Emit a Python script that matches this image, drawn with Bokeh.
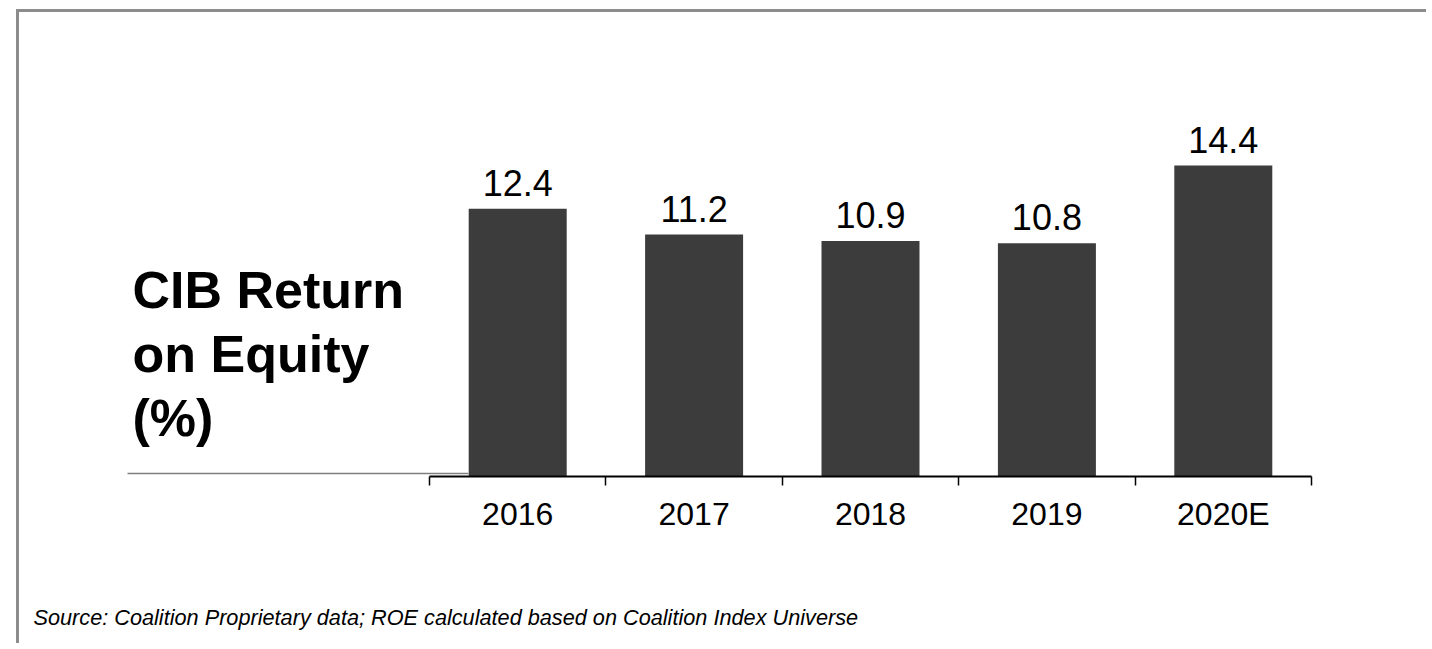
from bokeh.plotting import figure
from bokeh.models import ColumnDataSource, Range1d, LinearAxis, FixedTicker, Label, Title
from bokeh.core.properties import value
from bokeh.embed import file_html
from bokeh.resources import INLINE

# ---- data ----
categories = ["2016", "2017", "2018", "2019", "2020E"]
roe = [12.4, 11.2, 10.9, 10.8, 14.4]
value_labels = [f"{v:.1f}" for v in roe]
title_lines = ["CIB Return", "on Equity", "(%)"]
source_note = "Source: Coalition Proprietary data; ROE calculated based on Coalition Index Universe"

# ---- layout constants (page pixels) ----
LEFT_OFF, TOP_OFF = 19, 12        # canvas origin on page (after CSS margin + border)
W, H = 1410, 634
FRAME_BOTTOM_PAGE = 476
FRAME_H = FRAME_BOTTOM_PAGE - TOP_OFF
PX_PER_X = 176.4
PX_PER_Y = 21.6
X0_PAGE = 429           # page x of category boundary 0
BASE_SHIFT = 0.36       # baseline compensation (em)

x_start = -(X0_PAGE - LEFT_OFF) / PX_PER_X
x_end = x_start + W / PX_PER_X
y_end = FRAME_H / PX_PER_Y


def px_x(page_x):
    return x_start + (page_x - LEFT_OFF) / PX_PER_X


def px_y(page_y):
    return (FRAME_BOTTOM_PAGE - page_y) / PX_PER_Y


p = figure(width=W, height=H, output_backend="svg", toolbar_location=None,
           x_range=Range1d(x_start, x_end), y_range=Range1d(0, y_end),
           x_axis_location=None, y_axis_location=None,
           min_border_left=0, min_border_right=0, min_border_top=0,
           min_border_bottom=H - FRAME_H)
p.styles = {"margin-left": "16px", "margin-top": "9px",
            "border-left": "3px solid #8c8c8c", "border-top": "3px solid #8c8c8c"}
p.grid.visible = False
p.outline_line_color = None
p.background_fill_color = "white"
p.border_fill_color = "white"

xs = [i + 0.5 for i in range(len(categories))]
src = ColumnDataSource(dict(x=xs, top=roe, lab=value_labels, cat=categories))

p.vbar(x="x", top="top", bottom=0, width=98 / PX_PER_X, source=src,
       fill_color="#3c3c3c", line_color=None)

VAL_FS = 36
p.text(x="x", y="top", text="lab", source=src, text_align="center",
       text_baseline="alphabetic", y_offset=-(13 + BASE_SHIFT * VAL_FS),
       text_font=value("Liberation Sans"), text_font_size=f"{VAL_FS}px", text_color="#000000")

# gray baseline to the left
p.segment(x0=[px_x(127)], y0=[px_y(473)], x1=[px_x(468)], y1=[px_y(473)],
          line_color="#7f7f7f", line_width=1.5)

# x axis with boundary ticks
ax = LinearAxis(bounds=(0, len(categories)))
ax.ticker = FixedTicker(ticks=xs, minor_ticks=list(range(len(categories) + 1)))
ax.major_label_overrides = {x: c for x, c in zip(xs, categories)}
ax.major_tick_line_color = None
ax.major_tick_in = 0
ax.major_tick_out = 9
ax.minor_tick_in = 0
ax.minor_tick_out = 9
ax.minor_tick_line_color = "#000000"
ax.minor_tick_line_width = 1.5
ax.axis_line_color = "#000000"
ax.axis_line_width = 2
ax.major_label_standoff = 10
ax.major_label_text_font = "Liberation Sans"
ax.major_label_text_font_size = "32px"
ax.major_label_text_color = "#000000"
p.add_layout(ax, "below")

# spacer + source note below the axis
p.add_layout(Title(text=" ", text_font_size="1px", standoff=65), "below")
p.add_layout(Title(text=source_note, align="left", offset=33 - LEFT_OFF, standoff=0,
                   text_font="Liberation Sans", text_font_style="italic",
                   text_font_size="21.7px", text_color="#000000"), "below")

# title block
TITLE_FS = 52
for line, base in zip(title_lines, [308, 372, 436]):
    p.add_layout(Label(x=px_x(132), y=px_y(base - BASE_SHIFT * TITLE_FS), text=line,
                       text_font="Liberation Sans", text_font_style="bold",
                       text_font_size=f"{TITLE_FS}px", text_color="#000000",
                       text_baseline="alphabetic", text_align="left"))

open("out.html", "w").write(file_html(p, INLINE))
